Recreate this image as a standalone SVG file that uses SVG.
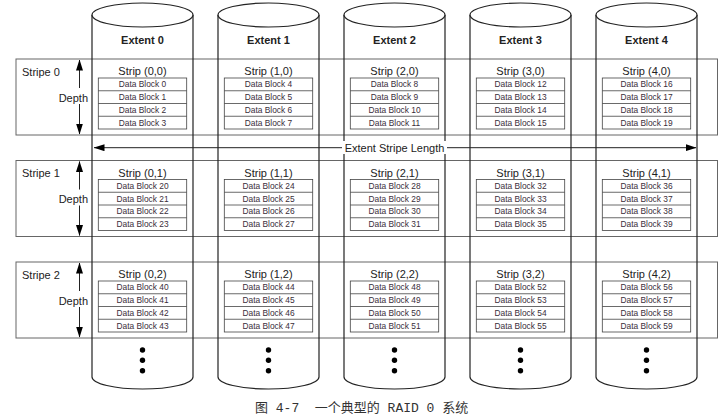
<svg xmlns="http://www.w3.org/2000/svg" width="720" height="420" viewBox="0 0 720 420">
<defs>
<style>
.cyl{fill:none;stroke:#222;stroke-width:1.2}
.top{fill:#fff;stroke:#222;stroke-width:1.2}
.stripe{fill:none;stroke:#666;stroke-width:1}
.tbl{fill:#fff;stroke:#444;stroke-width:0.8}
.t{font-family:"Liberation Sans",Arial,sans-serif;fill:#222}
.ext{font-size:11px;font-weight:bold;text-anchor:middle}
.lbl{font-size:11px}
.strip{font-size:11px;text-anchor:middle}
.db{font-size:8.4px;text-anchor:middle;fill:#3a2e3a}
.arr{stroke:#222;stroke-width:1;fill:none;marker-start:url(#ah);marker-end:url(#ah)}
.bg{fill:#fff}
.dot{fill:#000}
</style>
<marker id="ah" viewBox="0 0 11 7" refX="10.5" refY="3.5" markerWidth="11" markerHeight="7" markerUnits="userSpaceOnUse" orient="auto-start-reverse"><path d="M0,0 L11,3.5 L0,7 z" fill="#000"/></marker>
</defs>
<rect width="720" height="420" fill="#fff"/>

<g id="stripe0"><rect class="stripe" x="16" y="59" width="701.5" height="76"/><text class="t lbl" x="22" y="75.5">Stripe 0</text></g>
<g id="stripe1"><rect class="stripe" x="16" y="160.5" width="701.5" height="76"/><text class="t lbl" x="22" y="177">Stripe 1</text></g>
<g id="stripe2"><rect class="stripe" x="16" y="262" width="701.5" height="76"/><text class="t lbl" x="22" y="278.5">Stripe 2</text></g>

<g id="extent0"><path class="cyl" d="M92,15 L92,377 A50.5,12 0 0 0 193,377 L193,15"/><ellipse class="top" cx="142.5" cy="15" rx="50.5" ry="12"/><text class="t ext" x="142.5" y="44">Extent 0</text><circle class="dot" cx="142.5" cy="350" r="2.7"/><circle class="dot" cx="142.5" cy="360.3" r="2.7"/><circle class="dot" cx="142.5" cy="370.7" r="2.7"/></g>
<g id="extent1"><path class="cyl" d="M218,15 L218,377 A50.5,12 0 0 0 319,377 L319,15"/><ellipse class="top" cx="268.5" cy="15" rx="50.5" ry="12"/><text class="t ext" x="268.5" y="44">Extent 1</text><circle class="dot" cx="268.5" cy="350" r="2.7"/><circle class="dot" cx="268.5" cy="360.3" r="2.7"/><circle class="dot" cx="268.5" cy="370.7" r="2.7"/></g>
<g id="extent2"><path class="cyl" d="M344,15 L344,377 A50.5,12 0 0 0 445,377 L445,15"/><ellipse class="top" cx="394.5" cy="15" rx="50.5" ry="12"/><text class="t ext" x="394.5" y="44">Extent 2</text><circle class="dot" cx="394.5" cy="350" r="2.7"/><circle class="dot" cx="394.5" cy="360.3" r="2.7"/><circle class="dot" cx="394.5" cy="370.7" r="2.7"/></g>
<g id="extent3"><path class="cyl" d="M470,15 L470,377 A50.5,12 0 0 0 571,377 L571,15"/><ellipse class="top" cx="520.5" cy="15" rx="50.5" ry="12"/><text class="t ext" x="520.5" y="44">Extent 3</text><circle class="dot" cx="520.5" cy="350" r="2.7"/><circle class="dot" cx="520.5" cy="360.3" r="2.7"/><circle class="dot" cx="520.5" cy="370.7" r="2.7"/></g>
<g id="extent4"><path class="cyl" d="M596,15 L596,377 A50.5,12 0 0 0 697,377 L697,15"/><ellipse class="top" cx="646.5" cy="15" rx="50.5" ry="12"/><text class="t ext" x="646.5" y="44">Extent 4</text><circle class="dot" cx="646.5" cy="350" r="2.7"/><circle class="dot" cx="646.5" cy="360.3" r="2.7"/><circle class="dot" cx="646.5" cy="370.7" r="2.7"/></g>

<g id="strip-0-0"><text class="t strip" x="142.5" y="75">Strip (0,0)</text><rect class="tbl" x="98.3" y="78" width="88.4" height="51"/><path class="tbl" d="M98.3,90.75 H186.7 M98.3,103.5 H186.7 M98.3,116.25 H186.7"/><text class="t db" x="142.5" y="87.3">Data Block 0</text><text class="t db" x="142.5" y="100">Data Block 1</text><text class="t db" x="142.5" y="112.8">Data Block 2</text><text class="t db" x="142.5" y="125.5">Data Block 3</text></g>
<g id="strip-1-0"><text class="t strip" x="268.5" y="75">Strip (1,0)</text><rect class="tbl" x="224.3" y="78" width="88.4" height="51"/><path class="tbl" d="M224.3,90.75 H312.7 M224.3,103.5 H312.7 M224.3,116.25 H312.7"/><text class="t db" x="268.5" y="87.3">Data Block 4</text><text class="t db" x="268.5" y="100">Data Block 5</text><text class="t db" x="268.5" y="112.8">Data Block 6</text><text class="t db" x="268.5" y="125.5">Data Block 7</text></g>
<g id="strip-2-0"><text class="t strip" x="394.5" y="75">Strip (2,0)</text><rect class="tbl" x="350.3" y="78" width="88.4" height="51"/><path class="tbl" d="M350.3,90.75 H438.7 M350.3,103.5 H438.7 M350.3,116.25 H438.7"/><text class="t db" x="394.5" y="87.3">Data Block 8</text><text class="t db" x="394.5" y="100">Data Block 9</text><text class="t db" x="394.5" y="112.8">Data Block 10</text><text class="t db" x="394.5" y="125.5">Data Block 11</text></g>
<g id="strip-3-0"><text class="t strip" x="520.5" y="75">Strip (3,0)</text><rect class="tbl" x="476.3" y="78" width="88.4" height="51"/><path class="tbl" d="M476.3,90.75 H564.7 M476.3,103.5 H564.7 M476.3,116.25 H564.7"/><text class="t db" x="520.5" y="87.3">Data Block 12</text><text class="t db" x="520.5" y="100">Data Block 13</text><text class="t db" x="520.5" y="112.8">Data Block 14</text><text class="t db" x="520.5" y="125.5">Data Block 15</text></g>
<g id="strip-4-0"><text class="t strip" x="646.5" y="75">Strip (4,0)</text><rect class="tbl" x="602.3" y="78" width="88.4" height="51"/><path class="tbl" d="M602.3,90.75 H690.7 M602.3,103.5 H690.7 M602.3,116.25 H690.7"/><text class="t db" x="646.5" y="87.3">Data Block 16</text><text class="t db" x="646.5" y="100">Data Block 17</text><text class="t db" x="646.5" y="112.8">Data Block 18</text><text class="t db" x="646.5" y="125.5">Data Block 19</text></g>

<g id="strip-0-1"><text class="t strip" x="142.5" y="176.5">Strip (0,1)</text><rect class="tbl" x="98.3" y="179.5" width="88.4" height="51"/><path class="tbl" d="M98.3,192.25 H186.7 M98.3,205 H186.7 M98.3,217.75 H186.7"/><text class="t db" x="142.5" y="188.8">Data Block 20</text><text class="t db" x="142.5" y="201.5">Data Block 21</text><text class="t db" x="142.5" y="214.3">Data Block 22</text><text class="t db" x="142.5" y="227">Data Block 23</text></g>
<g id="strip-1-1"><text class="t strip" x="268.5" y="176.5">Strip (1,1)</text><rect class="tbl" x="224.3" y="179.5" width="88.4" height="51"/><path class="tbl" d="M224.3,192.25 H312.7 M224.3,205 H312.7 M224.3,217.75 H312.7"/><text class="t db" x="268.5" y="188.8">Data Block 24</text><text class="t db" x="268.5" y="201.5">Data Block 25</text><text class="t db" x="268.5" y="214.3">Data Block 26</text><text class="t db" x="268.5" y="227">Data Block 27</text></g>
<g id="strip-2-1"><text class="t strip" x="394.5" y="176.5">Strip (2,1)</text><rect class="tbl" x="350.3" y="179.5" width="88.4" height="51"/><path class="tbl" d="M350.3,192.25 H438.7 M350.3,205 H438.7 M350.3,217.75 H438.7"/><text class="t db" x="394.5" y="188.8">Data Block 28</text><text class="t db" x="394.5" y="201.5">Data Block 29</text><text class="t db" x="394.5" y="214.3">Data Block 30</text><text class="t db" x="394.5" y="227">Data Block 31</text></g>
<g id="strip-3-1"><text class="t strip" x="520.5" y="176.5">Strip (3,1)</text><rect class="tbl" x="476.3" y="179.5" width="88.4" height="51"/><path class="tbl" d="M476.3,192.25 H564.7 M476.3,205 H564.7 M476.3,217.75 H564.7"/><text class="t db" x="520.5" y="188.8">Data Block 32</text><text class="t db" x="520.5" y="201.5">Data Block 33</text><text class="t db" x="520.5" y="214.3">Data Block 34</text><text class="t db" x="520.5" y="227">Data Block 35</text></g>
<g id="strip-4-1"><text class="t strip" x="646.5" y="176.5">Strip (4,1)</text><rect class="tbl" x="602.3" y="179.5" width="88.4" height="51"/><path class="tbl" d="M602.3,192.25 H690.7 M602.3,205 H690.7 M602.3,217.75 H690.7"/><text class="t db" x="646.5" y="188.8">Data Block 36</text><text class="t db" x="646.5" y="201.5">Data Block 37</text><text class="t db" x="646.5" y="214.3">Data Block 38</text><text class="t db" x="646.5" y="227">Data Block 39</text></g>

<g id="strip-0-2"><text class="t strip" x="142.5" y="278">Strip (0,2)</text><rect class="tbl" x="98.3" y="281" width="88.4" height="51"/><path class="tbl" d="M98.3,293.75 H186.7 M98.3,306.5 H186.7 M98.3,319.25 H186.7"/><text class="t db" x="142.5" y="290.3">Data Block 40</text><text class="t db" x="142.5" y="303">Data Block 41</text><text class="t db" x="142.5" y="315.8">Data Block 42</text><text class="t db" x="142.5" y="328.5">Data Block 43</text></g>
<g id="strip-1-2"><text class="t strip" x="268.5" y="278">Strip (1,2)</text><rect class="tbl" x="224.3" y="281" width="88.4" height="51"/><path class="tbl" d="M224.3,293.75 H312.7 M224.3,306.5 H312.7 M224.3,319.25 H312.7"/><text class="t db" x="268.5" y="290.3">Data Block 44</text><text class="t db" x="268.5" y="303">Data Block 45</text><text class="t db" x="268.5" y="315.8">Data Block 46</text><text class="t db" x="268.5" y="328.5">Data Block 47</text></g>
<g id="strip-2-2"><text class="t strip" x="394.5" y="278">Strip (2,2)</text><rect class="tbl" x="350.3" y="281" width="88.4" height="51"/><path class="tbl" d="M350.3,293.75 H438.7 M350.3,306.5 H438.7 M350.3,319.25 H438.7"/><text class="t db" x="394.5" y="290.3">Data Block 48</text><text class="t db" x="394.5" y="303">Data Block 49</text><text class="t db" x="394.5" y="315.8">Data Block 50</text><text class="t db" x="394.5" y="328.5">Data Block 51</text></g>
<g id="strip-3-2"><text class="t strip" x="520.5" y="278">Strip (3,2)</text><rect class="tbl" x="476.3" y="281" width="88.4" height="51"/><path class="tbl" d="M476.3,293.75 H564.7 M476.3,306.5 H564.7 M476.3,319.25 H564.7"/><text class="t db" x="520.5" y="290.3">Data Block 52</text><text class="t db" x="520.5" y="303">Data Block 53</text><text class="t db" x="520.5" y="315.8">Data Block 54</text><text class="t db" x="520.5" y="328.5">Data Block 55</text></g>
<g id="strip-4-2"><text class="t strip" x="646.5" y="278">Strip (4,2)</text><rect class="tbl" x="602.3" y="281" width="88.4" height="51"/><path class="tbl" d="M602.3,293.75 H690.7 M602.3,306.5 H690.7 M602.3,319.25 H690.7"/><text class="t db" x="646.5" y="290.3">Data Block 56</text><text class="t db" x="646.5" y="303">Data Block 57</text><text class="t db" x="646.5" y="315.8">Data Block 58</text><text class="t db" x="646.5" y="328.5">Data Block 59</text></g>

<g id="connectors">
<line class="arr" x1="79.5" y1="60" x2="79.5" y2="134"/>
<line class="arr" x1="79.5" y1="161.5" x2="79.5" y2="235.5"/>
<line class="arr" x1="79.5" y1="263" x2="79.5" y2="337"/>
<line class="arr" x1="94" y1="147.7" x2="696" y2="147.7"/>
</g>

<g id="depth-labels">
<rect class="bg" x="56" y="88" width="34" height="16"/><text class="t lbl" x="88" y="101.5" text-anchor="end">Depth</text>
<rect class="bg" x="56" y="189.5" width="34" height="16"/><text class="t lbl" x="88" y="203" text-anchor="end">Depth</text>
<rect class="bg" x="56" y="291" width="34" height="16"/><text class="t lbl" x="88" y="304.5" text-anchor="end">Depth</text>
<rect class="bg" x="342" y="141" width="105" height="13"/><text class="t lbl" x="394.5" y="151.8" text-anchor="middle">Extent Stripe Length</text>
</g>

<text x="255" y="412" font-family="'Liberation Mono','Noto Sans CJK SC',monospace" font-size="13" fill="#333" xml:space="preserve">图 4-7  一个典型的 RAID 0 系统</text>
</svg>
